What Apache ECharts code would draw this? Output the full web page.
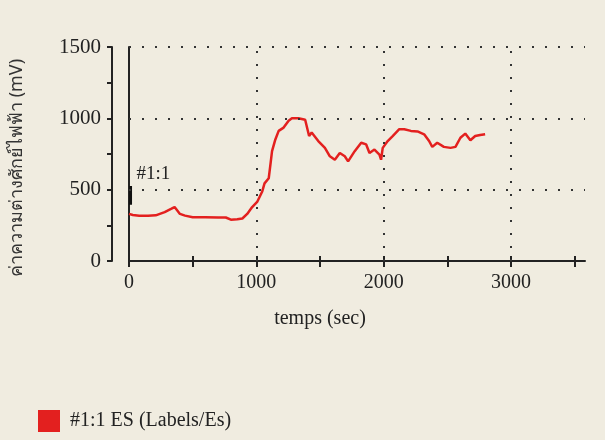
<!DOCTYPE html>
<html><head><meta charset="utf-8">
<script src="https://cdn.jsdelivr.net/npm/echarts@6/dist/echarts.min.js"></script>
<style>html,body{margin:0;padding:0;background:#f0ece0}#c{width:605px;height:440px}</style>
</head><body><div id="c"></div>
<script>
const seriesName = '#1:1 ES (Labels/Es)';
const yAxisName = 'ค่าความต่างศักย์ไฟฟ้า (mV)';
const xAxisName = 'temps (sec)';
const xTickValues = [0, 500, 1000, 1500, 2000, 2500, 3000, 3500];
const xLabelValues = [0, 1000, 2000, 3000];
const yTickValues = [0, 250, 500, 750, 1000, 1250, 1500];
const yLabelValues = [0, 500, 1000, 1500];
const xGridValues = [1000, 2000, 3000];
const yGridValues = [500, 1000, 1500];
const timeSec = [0, 30, 80, 150, 210, 280, 330, 358, 400, 440, 500, 600, 700, 760, 800, 850, 890, 928, 967, 1006, 1045, 1064, 1097, 1110, 1123, 1149, 1175, 1214, 1253, 1279, 1330, 1383, 1414, 1434, 1486, 1538, 1577, 1616, 1655, 1694, 1720, 1772, 1823, 1862, 1888, 1927, 1966, 1979, 1992, 2031, 2070, 2122, 2161, 2213, 2265, 2317, 2356, 2381, 2420, 2472, 2524, 2563, 2602, 2640, 2680, 2718, 2757, 2796];
const esValue = [330, 322, 318, 318, 320, 343, 365, 378, 330, 318, 307, 307, 305, 305, 290, 292, 298, 330, 378, 414, 485, 544, 580, 674, 770, 852, 912, 935, 983, 1000, 1000, 990, 876, 900, 841, 793, 734, 710, 757, 734, 698, 770, 829, 817, 757, 781, 746, 710, 793, 841, 876, 924, 924, 912, 908, 888, 841, 800, 829, 800, 793, 800, 864, 893, 846, 876, 883, 888];
const markerTime = [12, 12];
const markerValue = [395, 525];

const chart = echarts.init(document.getElementById('c'));
const font = 'Liberation Serif';
const ink = '#222';
const plain = v => String(v);
const gridMarks = [];
xGridValues.forEach(v => gridMarks.push({xAxis: v}));
yGridValues.forEach(v => gridMarks.push({yAxis: v}));
chart.setOption({
  backgroundColor: '#f0ece0',
  animation: false,
  textStyle: {fontFamily: font},
  grid: {left: 129, top: 47, right: 20, bottom: 179},
  legend: {
    left: 33, top: 405, icon: 'rect', itemWidth: 22, itemHeight: 22, itemGap: 10,
    textStyle: {fontFamily: font, fontSize: 20, color: '#222', padding: [0, 0, 0, 5]},
    data: [{name: seriesName}]
  },
  graphic: [{
    type: 'text', x: 8, y: 168, rotation: Math.PI / 2,
    style: {text: yAxisName, font: '18px "Noto Sans", sans-serif', fill: '#333', align: 'center', verticalAlign: 'top'}
  }],
  xAxis: [{
    type: 'value', min: 0, max: 3580,
    name: xAxisName, nameLocation: 'middle', nameGap: 48,
    nameTextStyle: {fontFamily: font, fontSize: 20, color: ink, padding: [0, 74, 0, 0]},
    axisLine: {show: true, lineStyle: {color: ink, width: 2}},
    axisTick: {show: true, customValues: xTickValues, length: 6, lineStyle: {color: ink, width: 2}},
    axisLabel: {customValues: xLabelValues, formatter: plain, fontFamily: font, fontSize: 20, color: ink, margin: 12},
    splitLine: {show: false}
  }, {
    type: 'value', min: 0, max: 3580, position: 'bottom',
    axisLine: {show: false},
    axisTick: {show: true, inside: true, customValues: xTickValues, length: 5, lineStyle: {color: ink, width: 2}},
    axisLabel: {show: false}, splitLine: {show: false}
  }],
  yAxis: [{
    type: 'value', min: 0, max: 1500, offset: 17, position: 'left',
    axisLine: {show: true, onZero: false, lineStyle: {color: ink, width: 2}},
    axisTick: {show: true, customValues: yTickValues, length: 5, lineStyle: {color: ink, width: 2}},
    axisLabel: {customValues: yLabelValues, formatter: plain, fontFamily: font, fontSize: 21, color: ink, margin: 11},
    splitLine: {show: false}
  }, {
    type: 'value', min: 0, max: 1500, position: 'left', offset: 0,
    axisLine: {show: true, onZero: false, lineStyle: {color: ink, width: 2}},
    axisTick: {show: false}, axisLabel: {show: false}, splitLine: {show: false}
  }],
  series: [{
    name: seriesName, type: 'line', symbol: 'none',
    data: timeSec.map((t, i) => [t, esValue[i]]),
    itemStyle: {color: '#e3201f'},
    lineStyle: {color: '#e3201f', width: 2.5},
    markLine: {
      silent: true, symbol: 'none', label: {show: false},
      lineStyle: {color: '#333', type: [2, 11], width: 2},
      data: gridMarks
    },
    z: 3
  }, {
    name: 'marker', type: 'line', symbol: 'none',
    data: markerTime.map((t, i) => [t, markerValue[i]]),
    lineStyle: {color: '#111', width: 3},
    endLabel: {show: true, formatter: '#1:1', fontFamily: font, fontSize: 19, color: ink, offset: [-2, -12]},
    z: 4
  }]
});
</script></body></html>
